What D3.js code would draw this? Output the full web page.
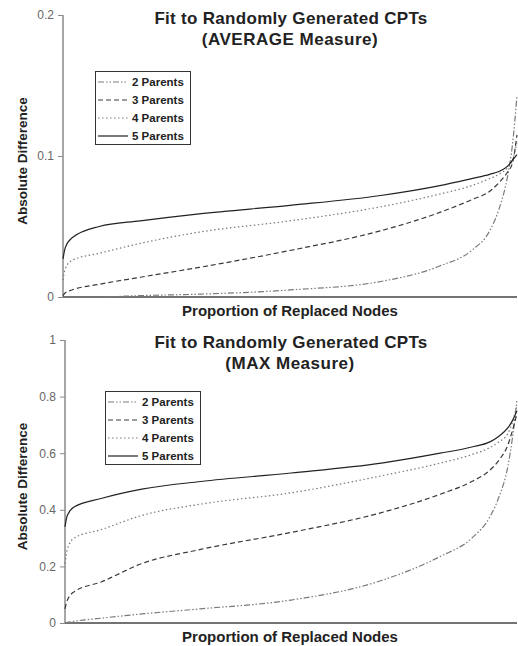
<!DOCTYPE html>
<html lang="en">
<head>
<meta charset="utf-8">
<title>Fit to Randomly Generated CPTs</title>
<script src="https://d3js.org/d3.v7.min.js"></script>
<style>
  body { margin: 0; background: #fff; }
  svg { display: block; font-family: Arial, "Liberation Sans", sans-serif; }
</style>
</head>
<body>
<div id="chart"></div>
<script>
// proportion of replaced nodes (x positions of the read-off points)
var propX = [0, 0.005, 0.02, 0.08, 0.17, 0.3, 0.5, 0.7, 0.83, 0.9, 0.94, 0.96, 0.98, 0.99, 1];

var seriesNames = ["2 Parents", "3 Parents", "4 Parents", "5 Parents"];

// AVERAGE measure
var avgTwo   = [0, 0, 0, 0, 0.001, 0.002, 0.005, 0.011, 0.022, 0.033, 0.047, 0.062, 0.087, 0.108, 0.143];
var avgThree = [0.001, 0.003, 0.005, 0.009, 0.014, 0.021, 0.033, 0.047, 0.060, 0.069, 0.075, 0.081, 0.089, 0.095, 0.115];
var avgFour  = [0.012, 0.020, 0.026, 0.031, 0.038, 0.046, 0.054, 0.064, 0.073, 0.079, 0.084, 0.087, 0.092, 0.097, 0.110];
var avgFive  = [0.027, 0.035, 0.042, 0.050, 0.054, 0.059, 0.065, 0.072, 0.079, 0.084, 0.087, 0.089, 0.093, 0.097, 0.101];
var avgTicks = [0, 0.1, 0.2];

// MAX measure
var maxTwo   = [0, 0.002, 0.006, 0.017, 0.032, 0.05, 0.081, 0.15, 0.235, 0.30, 0.375, 0.445, 0.555, 0.655, 0.79];
var maxThree = [0.05, 0.08, 0.11, 0.145, 0.21, 0.26, 0.32, 0.39, 0.455, 0.50, 0.54, 0.575, 0.63, 0.68, 0.74];
var maxFour  = [0.21, 0.26, 0.30, 0.33, 0.38, 0.42, 0.46, 0.52, 0.565, 0.595, 0.62, 0.64, 0.67, 0.71, 0.77];
var maxFive  = [0.34, 0.38, 0.41, 0.44, 0.473, 0.50, 0.53, 0.565, 0.60, 0.622, 0.64, 0.66, 0.69, 0.715, 0.75];
var maxTicks = [0, 0.2, 0.4, 0.6, 0.8, 1];

// line look for each series (same order as seriesNames)
var strokes = ["#7a7a7a", "#3a3a3a", "#7a7a7a", "#222"];
var dashes  = ["6,2,1.5,2,1.5,2", "5,3", "1.5,2.5", null];

var w = 518, h = 646;

var svg = d3.select("#chart")
  .append("svg")
  .attr("width", w)
  .attr("height", h);

var panels = [
  { title2: "(AVERAGE Measure)", series: [avgTwo, avgThree, avgFour, avgFive], ticks: avgTicks,
    left: 63, right: 517, top: 15, bottom: 297, titleY: 24, legend: { x: 95, y: 71 } },
  { title2: "(MAX Measure)", series: [maxTwo, maxThree, maxFour, maxFive], ticks: maxTicks,
    left: 65, right: 517, top: 340, bottom: 623, titleY: 348, legend: { x: 105, y: 391 } }
];

panels.forEach(function(p) {
  var g = svg.append("g");

  var xScale = d3.scaleLinear().domain([0, 1]).range([p.left, p.right]);
  var yScale = d3.scaleLinear().domain([0, d3.max(p.ticks)]).range([p.bottom, p.top]);

  // titles
  g.append("text")
    .attr("x", 291).attr("y", p.titleY)
    .attr("text-anchor", "middle")
    .attr("font-size", "17px").attr("font-weight", "bold").attr("fill", "#222")
    .attr("letter-spacing", "0.3px")
    .text("Fit to Randomly Generated CPTs");
  g.append("text")
    .attr("x", 290).attr("y", p.titleY + 21)
    .attr("text-anchor", "middle")
    .attr("font-size", "17px").attr("font-weight", "bold").attr("fill", "#222")
    .attr("letter-spacing", "0.5px")
    .text(p.title2);

  // y axis
  var yAxis = d3.axisLeft(yScale)
    .tickValues(p.ticks)
    .tickSize(5)
    .tickPadding(4)
    .tickFormat(function(d) { return String(d); });

  var ya = g.append("g")
    .attr("transform", "translate(" + p.left + ",0)")
    .call(yAxis);
  ya.select(".domain").attr("stroke", "#8a8a8a").attr("stroke-width", 1.5)
    .attr("d", "M0," + p.top + "V" + p.bottom);
  ya.selectAll(".tick line").attr("stroke", "#8a8a8a");
  ya.selectAll(".tick text").attr("fill", "#666").attr("font-size", "12px")
    .attr("font-family", "Arial, 'Liberation Sans', sans-serif");

  // x axis (no ticks)
  g.append("line")
    .attr("x1", xScale(0)).attr("x2", xScale(1))
    .attr("y1", p.bottom).attr("y2", p.bottom)
    .attr("stroke", "#444").attr("stroke-width", 1.5);

  // axis labels
  g.append("text")
    .attr("x", 290).attr("y", p.bottom + 19)
    .attr("text-anchor", "middle")
    .attr("font-size", "15px").attr("font-weight", "bold").attr("fill", "#222")
    .text("Proportion of Replaced Nodes");
  g.append("text")
    .attr("transform", "translate(27," + ((p.top + p.bottom) / 2 + 5) + ") rotate(-90)")
    .attr("text-anchor", "middle")
    .attr("font-size", "13.5px").attr("font-weight", "bold").attr("fill", "#222")
    .text("Absolute Difference");

  // curves
  var line = d3.line()
    .x(function(d, i) { return xScale(propX[i]); })
    .y(function(d) { return yScale(d); })
    .curve(d3.curveMonotoneX);

  g.selectAll("path.curve")
    .data(p.series)
    .enter()
    .append("path")
    .attr("class", "curve")
    .attr("d", line)
    .attr("fill", "none")
    .attr("stroke", function(d, i) { return strokes[i]; })
    .attr("stroke-width", 1.2)
    .attr("stroke-dasharray", function(d, i) { return dashes[i]; });

  // legend
  var lg = g.append("g").attr("transform", "translate(" + p.legend.x + "," + p.legend.y + ")");
  lg.append("rect")
    .attr("x", 0.5).attr("y", 0.5)
    .attr("width", 95).attr("height", 73)
    .attr("fill", "#fff").attr("stroke", "#333").attr("stroke-width", 1);

  var rows = lg.selectAll("g.row")
    .data(seriesNames)
    .enter()
    .append("g")
    .attr("class", "row")
    .attr("transform", function(d, i) { return "translate(0," + (11 + i * 18) + ")"; });
  rows.append("line")
    .attr("x1", 3).attr("x2", 33)
    .attr("stroke", function(d, i) { return strokes[i]; })
    .attr("stroke-width", 1.2)
    .attr("stroke-dasharray", function(d, i) { return dashes[i]; });
  rows.append("text")
    .attr("x", 37).attr("y", 4)
    .attr("font-size", "11.5px").attr("font-weight", "bold").attr("fill", "#222")
    .text(function(d) { return d; });
});
</script>
</body>
</html>
